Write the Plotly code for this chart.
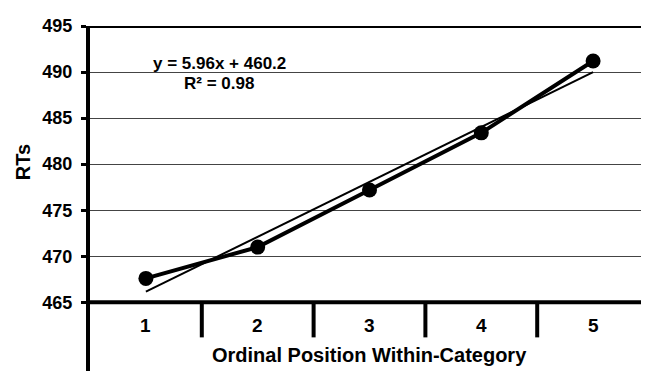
import plotly.graph_objects as go

categories = [1, 2, 3, 4, 5]
tick_labels = ["1", "2", "3", "4", "5"]
rt_values = [467.6, 471.0, 477.2, 483.4, 491.2]
trend_x = [1, 5]
trend_y = [466.16, 490.0]
y_ticks = [465, 470, 475, 480, 485, 490, 495]
equation_text = "y = 5.96x + 460.2"
r2_text = "R² = 0.98"
x_title = "Ordinal Position Within-Category"
y_title = "RTs"

FONT = "Liberation Sans, Arial, sans-serif"

fig = go.Figure()
fig.add_trace(go.Scatter(x=trend_x, y=trend_y, mode="lines",
                         line=dict(color="black", width=2), showlegend=False))
fig.add_trace(go.Scatter(x=categories, y=rt_values, mode="lines+markers",
                         line=dict(color="black", width=4),
                         marker=dict(color="black", size=15), showlegend=False))

shapes = []
shapes.append(dict(type="line", xref="paper", yref="y", x0=0, x1=0.9946, y0=465, y1=465,
                   line=dict(color="black", width=4)))
shapes.append(dict(type="line", xref="paper", yref="y", x0=-0.008, x1=0.9946, y0=495, y1=495,
                   line=dict(color="black", width=4)))
shapes.append(dict(type="line", xref="paper", yref="paper", x0=0.9946, x1=0.9946, y0=0, y1=1,
                   line=dict(color="#333", width=2)))
for i in range(len(categories) - 1):
    xs = (categories[i] + categories[i + 1]) / 2
    shapes.append(dict(type="line", xref="x", yref="y", x0=xs, x1=xs, y0=465, y1=461.2,
                       line=dict(color="black", width=4)))

annotations = []
for c, t in zip(categories, tick_labels):
    annotations.append(dict(x=c, y=462.5, xref="x", yref="y", text=t, showarrow=False,
                            font=dict(family=FONT, size=19, color="black", weight="bold")))
annotations.append(dict(x=0.5, y=0.046, xref="paper", yref="paper", text=x_title,
                        showarrow=False, yanchor="middle",
                        font=dict(family=FONT, size=20, color="black", weight="bold")))
annotations.append(dict(x=-0.12, y=0.605, xref="paper", yref="paper", text=y_title,
                        showarrow=False, textangle=-90, xanchor="center", yanchor="middle",
                        font=dict(family=FONT, size=20, color="black", weight="bold")))
annotations.append(dict(x=1.654, y=490.9, xref="x", yref="y", text=equation_text,
                        showarrow=False,
                        font=dict(family=FONT, size=17, color="black", weight="bold")))
annotations.append(dict(x=1.654, y=488.75, xref="x", yref="y", text=r2_text,
                        showarrow=False,
                        font=dict(family=FONT, size=17, color="black", weight="bold")))

fig.update_layout(
    width=649, height=371,
    margin=dict(l=82, r=8, t=16, b=8),
    paper_bgcolor="white", plot_bgcolor="white",
    shapes=shapes, annotations=annotations,
    xaxis=dict(range=[0.5, 5.5], showgrid=False, zeroline=False, showticklabels=False,
               showline=False, ticks=""),
    yaxis=dict(range=[457.55, 495], tickvals=y_ticks, showgrid=True, gridcolor="#444",
               gridwidth=1, zeroline=False, showline=True, linecolor="black", linewidth=4,
               ticks="outside", ticklen=5, tickwidth=3, tickcolor="black",
               ticklabelstandoff=5,
               tickfont=dict(family=FONT, size=18, color="black", weight="bold")),
)

fig.write_html("out.html")
